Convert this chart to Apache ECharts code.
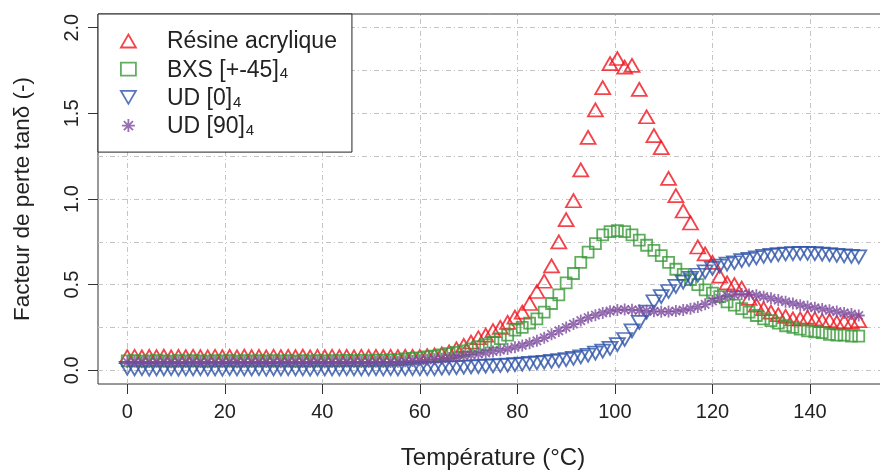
<!DOCTYPE html>
<html><head><meta charset="utf-8">
<script src="https://cdn.jsdelivr.net/npm/echarts@6/dist/echarts.min.js"></script>
<style>html,body{margin:0;padding:0;background:#fff}#c{width:880px;height:471px}</style>
</head><body><div id="c"></div>
<script>
const temps = [0,1.5,3,4.5,6,7.5,9,10.5,12,13.5,15,16.5,18,19.5,21,22.5,24,25.5,27,28.5,30,31.5,33,34.5,36,37.5,39,40.5,42,43.5,45,46.5,48,49.5,51,52.5,54,55.5,57,58.5,60,61.5,63,64.5,66,67.5,69,70.5,72,73.5,75,76.5,78,79.5,81,82.5,84,85.5,87,88.5,90,91.5,93,94.5,96,97.5,99,100.5,102,103.5,105,106.5,108,109.5,111,112.5,114,115.5,117,118.5,120,121.5,123,124.5,126,127.5,129,130.5,132,133.5,135,136.5,138,139.5,141,142.5,144,145.5,147,148.5,150];

const resine = [0.08,0.082,0.079,0.081,0.08,0.083,0.079,0.081,0.08,0.082,0.08,0.079,0.082,0.08,0.081,0.079,0.083,0.08,0.081,0.079,0.082,0.08,0.081,0.08,0.083,0.079,0.081,0.08,0.082,0.08,0.081,0.079,0.082,0.08,0.081,0.08,0.082,0.08,0.081,0.081,0.082,0.085,0.09,0.096,0.108,0.125,0.145,0.165,0.19,0.205,0.232,0.25,0.28,0.31,0.34,0.39,0.46,0.52,0.61,0.75,0.88,0.99,1.17,1.36,1.52,1.65,1.79,1.82,1.77,1.78,1.64,1.48,1.37,1.30,1.12,1.02,0.93,0.86,0.72,0.68,0.63,0.55,0.51,0.50,0.48,0.42,0.38,0.36,0.34,0.325,0.315,0.30,0.30,0.31,0.30,0.29,0.29,0.28,0.285,0.28,0.29];

const bxs = [0.055,0.056,0.054,0.055,0.057,0.055,0.054,0.056,0.055,0.057,0.055,0.054,0.056,0.055,0.056,0.054,0.057,0.055,0.056,0.055,0.057,0.055,0.056,0.054,0.057,0.055,0.056,0.055,0.057,0.056,0.058,0.056,0.058,0.057,0.059,0.058,0.06,0.062,0.066,0.07,0.073,0.078,0.083,0.09,0.097,0.105,0.113,0.125,0.138,0.15,0.165,0.185,0.205,0.235,0.25,0.275,0.30,0.34,0.39,0.44,0.51,0.565,0.63,0.69,0.74,0.79,0.81,0.815,0.81,0.79,0.76,0.73,0.70,0.67,0.63,0.59,0.56,0.53,0.50,0.47,0.45,0.43,0.40,0.38,0.36,0.34,0.32,0.30,0.29,0.275,0.26,0.25,0.24,0.23,0.225,0.22,0.21,0.205,0.205,0.20,0.20];

const ud0 = [0.012,0.008,0.01,0.007,0.009,0.008,0.01,0.007,0.009,0.008,0.01,0.008,0.009,0.007,0.01,0.008,0.009,0.008,0.01,0.007,0.009,0.008,0.01,0.008,0.009,0.007,0.01,0.008,0.009,0.008,0.01,0.008,0.009,0.008,0.01,0.009,0.01,0.009,0.01,0.01,0.01,0.01,0.01,0.012,0.014,0.016,0.018,0.02,0.022,0.024,0.026,0.028,0.03,0.033,0.036,0.04,0.043,0.047,0.052,0.057,0.063,0.07,0.078,0.088,0.10,0.112,0.128,0.15,0.18,0.23,0.28,0.34,0.40,0.43,0.46,0.49,0.515,0.537,0.555,0.575,0.595,0.608,0.62,0.628,0.64,0.648,0.657,0.665,0.671,0.675,0.679,0.681,0.683,0.683,0.681,0.678,0.675,0.671,0.668,0.665,0.662];

const ud90 = [0.048,0.05,0.047,0.049,0.048,0.05,0.047,0.049,0.048,0.05,0.048,0.047,0.049,0.048,0.05,0.047,0.049,0.048,0.05,0.048,0.049,0.047,0.05,0.048,0.049,0.048,0.05,0.047,0.049,0.048,0.05,0.048,0.049,0.048,0.05,0.049,0.049,0.05,0.053,0.055,0.058,0.061,0.065,0.068,0.072,0.078,0.085,0.09,0.095,0.102,0.11,0.117,0.125,0.135,0.145,0.158,0.172,0.19,0.21,0.23,0.25,0.27,0.29,0.308,0.322,0.335,0.345,0.352,0.355,0.353,0.35,0.347,0.344,0.342,0.343,0.346,0.352,0.36,0.37,0.385,0.405,0.42,0.435,0.442,0.445,0.443,0.438,0.43,0.42,0.41,0.40,0.39,0.38,0.372,0.365,0.358,0.35,0.343,0.335,0.328,0.32];

const seriesNames = ['Résine acrylique','BXS [+-45]','UD [0]','UD [90]'];
const xTicks = [0,20,40,60,80,100,120,140];
const yTicks = [0,0.5,1,1.5,2];
const xGrid = [0,20,40,60,80,100,120,140];
const yGrid = [0,0.25,0.5,0.75,1,1.25,1.5,1.75,2];

const colors = ['#f0141e','#3a9a3a','#2d52a8','#7d4c9e'];
const symDown = 'path://M0,0L14,0L7,12Z';
const symStar = 'path://M5,0L5,10M0,5L10,5M1.5,1.5L8.5,8.5M1.5,8.5L8.5,1.5';
const symbols = ['triangle','rect',symDown,symStar];
const sizes = [[15,13],[11,11],[15,13],[12,12]];
const valuesList = [resine,bxs,ud0,ud90];
const FONT = 'Liberation Sans, Arial, sans-serif';

const chart = echarts.init(document.getElementById('c'), null, {renderer:'canvas'});

const series = valuesList.map((vals,k)=>({
  name: seriesNames[k],
  type: 'scatter',
  z: 3,
  symbol: symbols[k],
  symbolSize: sizes[k],
  itemStyle: {color: 'rgba(0,0,0,0)', borderColor: colors[k], borderWidth: 1.8},
  emphasis: {disabled: true},
  data: temps.map((t,i)=>[t, vals[i]])
}));

series.unshift({
  name: 'grid',
  type: 'scatter',
  z: 1,
  symbolSize: 0,
  silent: true,
  data: [],
  markLine: {
    silent: true,
    z: 1,
    symbol: ['none','none'],
    label: {show:false},
    lineStyle: {color:'#c4c4c4', width:1, type:[5,3,1,3]},
    data: xGrid.map(v=>({xAxis:v})).concat(yGrid.map(v=>({yAxis:v})))
  }
});

chart.setOption({
  animation: false,
  backgroundColor: '#fff',
  textStyle: {fontFamily: FONT},
  grid: {left:98, width:790, top:14, bottom:87, show:true, borderColor:'#333', borderWidth:1,
    backgroundColor:'rgba(0,0,0,0)', containLabel:false, outerBoundsMode:'none'},
  xAxis: {
    type:'value', min:-6, max:156,
    axisLine:{show:false, onZero:false},
    axisTick:{show:true, customValues:xTicks, length:10, lineStyle:{color:'#333'}},
    axisLabel:{customValues:xTicks, fontSize:20, color:'#222', margin:18, fontFamily:FONT},
    splitLine:{show:false},
    name:'Température (°C)', nameLocation:'middle', nameGap:62,
    nameTextStyle:{fontSize:24, color:'#222', fontFamily:FONT}
  },
  yAxis: {
    type:'value', min:-0.08, max:2.08,
    axisLine:{show:false, onZero:false},
    axisTick:{show:true, customValues:yTicks, length:10, lineStyle:{color:'#333'}},
    axisLabel:{customValues:yTicks, rotate:90, fontSize:20, color:'#222', margin:16, fontFamily:FONT,
      formatter: v=>Number(v).toFixed(1)},
    splitLine:{show:false},
    name:'Facteur de perte tanδ (-)', nameLocation:'middle', nameRotate:90, nameGap:64,
    nameTextStyle:{fontSize:22.5, color:'#222', fontFamily:FONT}
  },
  legend: {
    left:98, top:14, orient:'vertical', z:10,
    backgroundColor:'#fff', borderColor:'#222', borderWidth:1,
    padding:[16.5,15,14,22],
    itemWidth:15, itemHeight:13, itemGap:5.2,
    data: seriesNames.map((n,k)=>({name:n, icon:symbols[k],
      itemStyle:{color:'rgba(0,0,0,0)', borderColor:colors[k], borderWidth:1.8}})),
    formatter: function(name){
      if (name === seriesNames[0]) return '{sp|}{a|' + name + '}';
      return '{sp|}{a|' + name + '}{sub|4}';
    },
    textStyle: {
      fontFamily: FONT, color:'#222',
      rich: {
        sp: {width:26},
        a: {fontSize:23, lineHeight:25, fontFamily:FONT, color:'#222', verticalAlign:'bottom'},
        sub: {fontSize:15, fontFamily:FONT, color:'#222', padding:[10,0,0,1], verticalAlign:'bottom'}
      }
    }
  },
  series: series
});
</script>
</body></html>
